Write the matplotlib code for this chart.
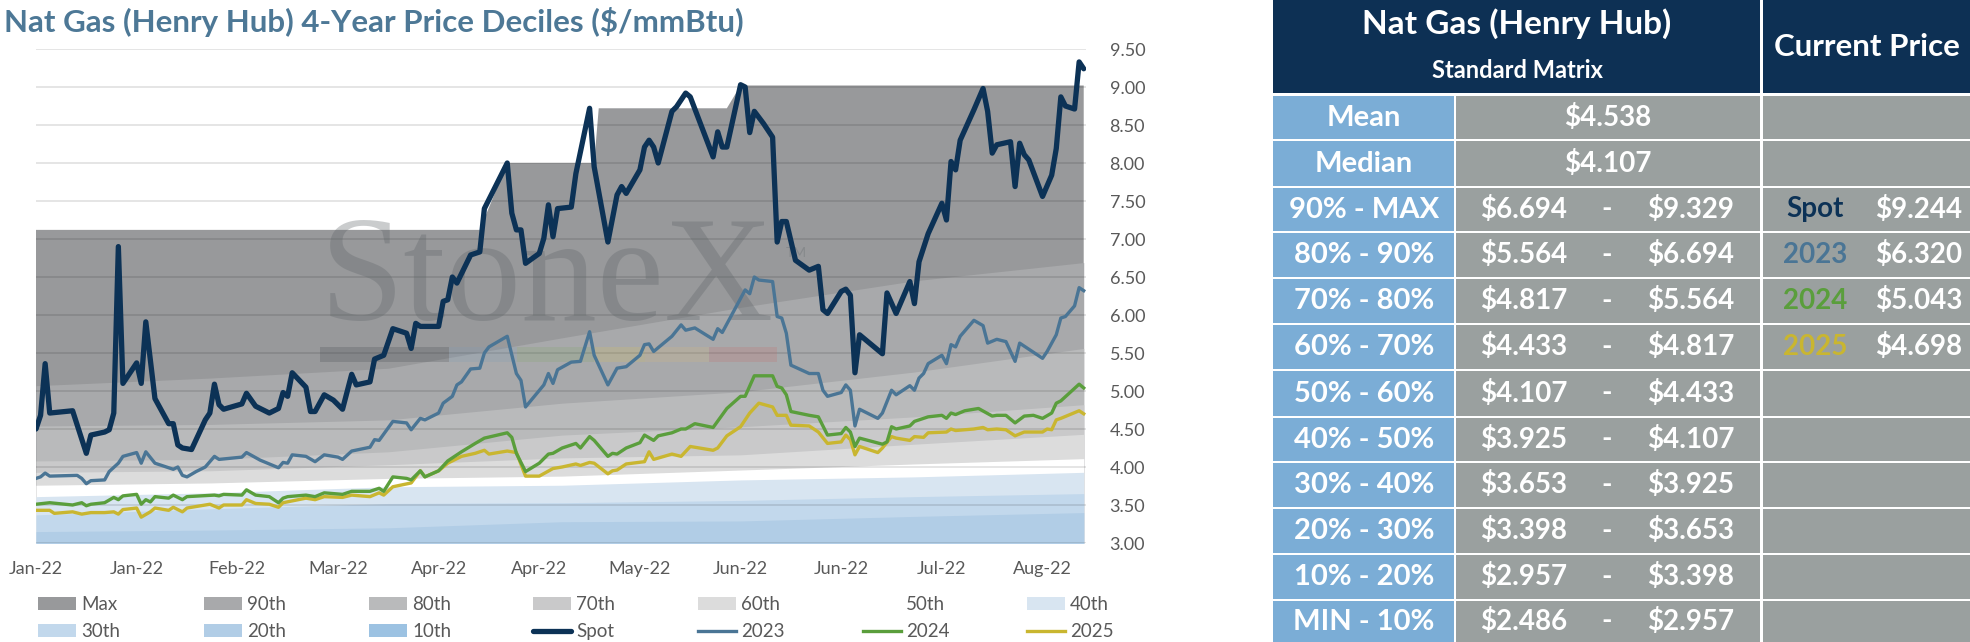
import numpy as np
import matplotlib
matplotlib.use("Agg")
import matplotlib.pyplot as plt
from matplotlib.patches import Rectangle, Patch
from matplotlib.lines import Line2D

plt.rcParams['font.family'] = ['Lato', 'DejaVu Sans']
plt.rcParams['ytick.major.pad'] = 17
plt.rcParams['xtick.major.pad'] = 13

W, H = 1970, 642

# ---- chart data (x = days since 3-Jan-2022) ----
spot_days = [0, 1, 2, 3, 8, 11, 12, 15, 16, 17, 18, 19, 22, 23, 24, 26, 29, 30, 31, 32,
             34, 37, 38, 39, 40, 41, 45, 46, 48, 51, 53, 54, 55, 56, 59, 60, 61, 63, 65, 67,
             69, 70, 73, 74, 76, 78, 81, 82, 83, 84, 88, 89, 90, 91, 92, 95, 97, 98, 103, 104,
             105, 106, 107, 110, 111, 112, 113, 114, 117, 118, 121, 122, 125, 127, 128, 129, 132, 133, 134, 135,
             136, 139, 140, 142, 143, 148, 149, 150, 151, 154, 155, 156, 157, 159, 161, 162, 163, 164, 166, 169,
             171, 172, 173, 176, 177, 178, 179, 180, 185, 186, 188, 191, 192, 193, 195, 198, 199, 200, 201, 202,
             205, 207, 208, 209, 210, 213, 214, 215, 216, 217, 220, 222, 223, 224, 225, 227, 228, 229]
spot_vals = [4.50, 4.68, 5.36, 4.71, 4.74, 4.18, 4.42, 4.46, 4.49, 4.71, 6.90, 5.10, 5.37, 5.10, 5.91, 4.90, 4.57, 4.57, 4.29, 4.25,
             4.23, 4.62, 4.71, 5.09, 4.82, 4.76, 4.83, 4.97, 4.80, 4.71, 4.77, 4.98, 4.93, 5.24, 5.05, 4.73, 4.73, 4.95, 4.88, 4.76,
             5.22, 5.08, 5.12, 5.42, 5.47, 5.82, 5.76, 5.56, 5.89, 5.85, 5.85, 6.18, 6.20, 6.50, 6.42, 6.79, 6.83, 7.40, 8.00, 7.34,
             7.12, 7.12, 6.68, 6.81, 7.01, 7.45, 7.03, 7.40, 7.42, 7.86, 8.72, 7.95, 6.96, 7.58, 7.69, 7.60, 7.91, 8.21, 8.30, 8.21,
             8.00, 8.68, 8.74, 8.92, 8.87, 8.08, 8.41, 8.21, 8.21, 9.03, 9.00, 8.40, 8.68, 8.52, 8.34, 6.96, 7.23, 7.23, 6.72, 6.59,
             6.64, 6.07, 6.02, 6.31, 6.34, 6.26, 5.24, 5.74, 5.49, 6.29, 6.02, 6.44, 6.15, 6.70, 7.07, 7.47, 7.25, 8.02, 7.91, 8.30,
             8.70, 8.98, 8.68, 8.13, 8.24, 8.28, 7.69, 8.26, 8.11, 8.04, 7.56, 7.84, 8.19, 8.87, 8.75, 8.71, 9.33, 9.24]

y2023_days = [0, 1, 2, 3, 9, 10, 11, 12, 15, 16, 18, 19, 22, 23, 24, 26, 30, 31, 32, 33,
              35, 37, 39, 40, 45, 46, 49, 51, 53, 54, 55, 56, 59, 61, 63, 66, 67, 69, 73, 74,
              75, 78, 81, 82, 84, 85, 88, 89, 91, 92, 93, 95, 97, 98, 99, 103, 105, 106, 107, 111,
              112, 113, 114, 117, 119, 121, 122, 125, 127, 129, 132, 133, 134, 135, 139, 141, 142, 144, 148, 149,
              150, 155, 156, 157, 158, 161, 162, 163, 164, 165, 169, 171, 172, 173, 176, 177, 178, 179, 180, 184,
              185, 187, 188, 191, 192, 193, 194, 195, 198, 199, 200, 201, 202, 205, 207, 208, 210, 212, 214, 215,
              217, 220, 221, 223, 224, 225, 227, 228, 229]
y2023_vals = [3.85, 3.87, 3.92, 3.88, 3.89, 3.85, 3.78, 3.82, 3.83, 3.94, 4.05, 4.14, 4.19, 4.05, 4.20, 4.05, 3.97, 4.00, 3.89, 3.87,
              3.94, 4.00, 4.14, 4.10, 4.13, 4.19, 4.09, 4.04, 3.99, 4.06, 4.05, 4.16, 4.14, 4.07, 4.16, 4.13, 4.10, 4.21, 4.26, 4.36,
              4.35, 4.60, 4.58, 4.49, 4.64, 4.62, 4.71, 4.84, 4.93, 5.08, 5.12, 5.29, 5.30, 5.50, 5.58, 5.72, 5.23, 5.14, 4.79, 5.08,
              5.23, 5.10, 5.28, 5.38, 5.39, 5.78, 5.47, 5.08, 5.30, 5.32, 5.47, 5.61, 5.62, 5.52, 5.72, 5.87, 5.80, 5.83, 5.68, 5.82,
              5.77, 6.33, 6.28, 6.50, 6.46, 6.44, 5.98, 5.96, 5.76, 5.34, 5.23, 5.23, 5.01, 4.93, 4.98, 5.08, 5.01, 4.54, 4.76, 4.64,
              4.71, 5.01, 4.95, 5.07, 5.01, 5.17, 5.23, 5.36, 5.47, 5.36, 5.61, 5.58, 5.72, 5.93, 5.86, 5.63, 5.68, 5.65, 5.39, 5.63,
              5.55, 5.43, 5.52, 5.74, 5.96, 5.98, 6.12, 6.36, 6.32]

y2024_days = [0, 3, 8, 10, 11, 12, 15, 17, 18, 19, 22, 23, 24, 25, 26, 29, 30, 32, 33, 39,
              40, 41, 45, 46, 48, 51, 53, 54, 55, 59, 61, 63, 67, 69, 73, 75, 76, 78, 81, 82,
              84, 85, 88, 90, 93, 96, 98, 103, 104, 105, 107, 110, 112, 113, 115, 118, 119, 121, 122, 125,
              126, 127, 129, 132, 133, 135, 136, 139, 141, 142, 144, 148, 151, 154, 155, 157, 161, 162, 163, 164,
              165, 169, 171, 173, 176, 177, 178, 179, 180, 185, 186, 187, 188, 191, 192, 195, 198, 199, 200, 201,
              203, 206, 209, 210, 212, 214, 216, 218, 220, 222, 223, 224, 228, 229]
y2024_vals = [3.51, 3.53, 3.50, 3.53, 3.49, 3.51, 3.53, 3.60, 3.57, 3.62, 3.64, 3.51, 3.57, 3.54, 3.61, 3.59, 3.63, 3.57, 3.61, 3.63,
              3.62, 3.64, 3.63, 3.70, 3.63, 3.61, 3.53, 3.59, 3.61, 3.63, 3.61, 3.66, 3.64, 3.68, 3.68, 3.72, 3.68, 3.87, 3.85, 3.83,
              3.95, 3.87, 3.95, 4.08, 4.20, 4.31, 4.38, 4.45, 4.39, 4.18, 3.94, 4.05, 4.17, 4.18, 4.25, 4.31, 4.25, 4.40, 4.35, 4.14,
              4.18, 4.17, 4.25, 4.32, 4.42, 4.35, 4.41, 4.45, 4.50, 4.50, 4.57, 4.52, 4.77, 4.93, 4.93, 5.20, 5.20, 5.06, 5.04, 4.95,
              4.73, 4.68, 4.66, 4.42, 4.44, 4.52, 4.46, 4.27, 4.38, 4.30, 4.33, 4.53, 4.50, 4.54, 4.60, 4.66, 4.68, 4.64, 4.71, 4.69,
              4.74, 4.77, 4.67, 4.68, 4.68, 4.58, 4.67, 4.68, 4.64, 4.71, 4.84, 4.87, 5.09, 5.04]

y2025_days = [0, 2, 3, 4, 8, 10, 12, 15, 17, 18, 19, 22, 23, 25, 26, 29, 30, 32, 33, 38,
              40, 41, 45, 46, 48, 51, 53, 54, 59, 61, 63, 67, 69, 73, 75, 76, 78, 82, 84, 85,
              88, 90, 93, 96, 98, 99, 103, 105, 107, 110, 113, 115, 118, 119, 121, 122, 125, 126, 127, 129,
              133, 134, 135, 139, 141, 143, 148, 149, 151, 154, 156, 158, 161, 162, 164, 165, 169, 171, 173, 176,
              177, 178, 179, 180, 184, 185, 187, 188, 191, 192, 194, 195, 199, 200, 201, 205, 207, 208, 210, 212,
              214, 216, 220, 221, 222, 223, 224, 228, 229]
y2025_vals = [3.43, 3.43, 3.43, 3.39, 3.41, 3.38, 3.40, 3.40, 3.41, 3.38, 3.44, 3.46, 3.34, 3.41, 3.46, 3.43, 3.47, 3.41, 3.46, 3.51,
              3.46, 3.50, 3.50, 3.57, 3.52, 3.51, 3.47, 3.53, 3.59, 3.57, 3.61, 3.60, 3.63, 3.61, 3.66, 3.63, 3.74, 3.79, 3.95, 3.87,
              3.95, 4.05, 4.14, 4.18, 4.22, 4.17, 4.21, 4.19, 3.88, 3.88, 3.98, 4.00, 4.04, 4.02, 4.06, 4.05, 3.91, 3.95, 3.96, 4.04,
              4.07, 4.20, 4.10, 4.17, 4.14, 4.27, 4.22, 4.25, 4.41, 4.53, 4.71, 4.84, 4.79, 4.68, 4.68, 4.55, 4.54, 4.46, 4.31, 4.33,
              4.42, 4.36, 4.16, 4.27, 4.19, 4.25, 4.40, 4.38, 4.35, 4.40, 4.39, 4.45, 4.46, 4.50, 4.48, 4.50, 4.52, 4.49, 4.50, 4.49,
              4.41, 4.46, 4.46, 4.50, 4.49, 4.62, 4.64, 4.74, 4.70]

# decile bands
max_days = [0, 97, 103, 122, 123, 151, 154, 229]
max_vals = [7.12, 7.12, 8.00, 8.00, 8.72, 8.72, 9.02, 9.02]
band_days = [0, 38, 77, 115, 154, 192, 229]
p90 = [5.07, 5.17, 5.30, 5.70, 6.10, 6.45, 6.69]
p80 = [4.54, 4.56, 4.62, 4.84, 4.99, 5.25, 5.56]
p70 = [4.08, 4.10, 4.20, 4.42, 4.53, 4.66, 4.82]
p60 = [3.93, 3.95, 4.03, 4.12, 4.16, 4.30, 4.43]
p50 = [3.76, 3.79, 3.85, 3.88, 3.96, 4.04, 4.11]
p40 = [3.61, 3.66, 3.74, 3.76, 3.83, 3.87, 3.93]
p30 = [3.37, 3.45, 3.52, 3.53, 3.56, 3.61, 3.65]
p20 = [3.15, 3.17, 3.20, 3.28, 3.29, 3.35, 3.40]
p10 = [2.70, 2.75, 2.80, 2.85, 2.88, 2.92, 2.96]

tick_labels = ["Jan-22", "Jan-22", "Feb-22", "Mar-22", "Apr-22", "Apr-22",
               "May-22", "Jun-22", "Jun-22", "Jul-22", "Aug-22"]
tick_step = 22

# ---- table data ----
row_labels = ["Mean", "Median", "90% - MAX", "80% - 90%", "70% - 80%", "60% - 70%",
              "50% - 60%", "40% - 50%", "30% - 40%", "20% - 30%", "10% - 20%", "MIN - 10%"]
range_low = [4.538, 4.107, 6.694, 5.564, 4.817, 4.433, 4.107, 3.925, 3.653, 3.398, 2.957, 2.486]
range_high = [None, None, 9.329, 6.694, 5.564, 4.817, 4.433, 4.107, 3.925, 3.653, 3.398, 2.957]
current_names = ["Spot", "2023", "2024", "2025"]
current_vals = [9.244, 6.320, 5.043, 4.698]

# ---- styles ----
c_spot, c_23, c_24, c_25 = '#0c3256', '#4a7595', '#5a9e3c', '#c9b630'
band_colors = {'Max': '#98999b', '90th': '#a8a9ab', '80th': '#b9babb', '70th': '#c9c9ca',
               '60th': '#dcdcdc', '50th': '#ffffff', '40th': '#d8e5f1', '30th': '#c2d8ec',
               '20th': '#b1cde6', '10th': '#9cc2e2'}
txt_gray = '#595959'

fig = plt.figure(figsize=(W / 100, H / 100), dpi=100)

fig.text(4 / W, 1 - 22 / H, "Nat Gas (Henry Hub) 4-Year Price Deciles ($/mmBtu)",
         fontsize=22.5, weight='bold', color='#4d7896', va='center', ha='left')

ax = fig.add_axes([36 / W, 1 - 543 / H, (1086 - 36) / W, (543 - 49) / H])

bands = [('Max', max_days, max_vals), ('90th', band_days, p90), ('80th', band_days, p80),
         ('70th', band_days, p70), ('60th', band_days, p60), ('50th', band_days, p50),
         ('40th', band_days, p40), ('30th', band_days, p30), ('20th', band_days, p20),
         ('10th', band_days, p10)]
for name, d, v in bands:
    ax.fill_between(d, v, 0, color=band_colors[name], lw=0, zorder=1)

# watermark
ax.text(0.270, 0.451, "StoneX", transform=ax.transAxes, fontsize=109,
        family='Liberation Serif', color='#5f6569', alpha=0.33, ha='left', va='baseline', zorder=3)
ax.text(0.714, 0.600, "TM", transform=ax.transAxes, fontsize=10,
        color='#5f6569', alpha=0.3, ha='left', va='top', zorder=3)
bar_edges = [320, 449, 517, 594, 645, 709, 777]
bar_cols = ['#3c4247', '#7d9cb8', '#7fa86a', '#d9c35a', '#d9b77a', '#c56b6b']
for i, col in enumerate(bar_cols):
    x0 = (bar_edges[i] - 36) / 1050
    x1 = (bar_edges[i + 1] - 36) / 1050
    ax.add_patch(Rectangle((x0, 0.366), x1 - x0, 0.031, transform=ax.transAxes,
                           color=col, alpha=0.22, lw=0, zorder=3))

ax.plot(y2025_days, y2025_vals, color=c_25, lw=2.4, zorder=4, solid_joinstyle='round')
ax.plot(y2024_days, y2024_vals, color=c_24, lw=2.4, zorder=5, solid_joinstyle='round')
ax.plot(y2023_days, y2023_vals, color=c_23, lw=2.4, zorder=6, solid_joinstyle='round')
ax.plot(spot_days, spot_vals, color=c_spot, lw=3.8, zorder=7, solid_joinstyle='round',
        solid_capstyle='round')

ax.set_xlim(0, 229.5)
ax.set_ylim(3.0, 9.5)
ax.set_yticks(np.arange(3.0, 9.51, 0.5))
ax.yaxis.set_major_formatter(plt.FuncFormatter(lambda v, p: f"{v:.2f}"))
ax.yaxis.tick_right()
ax.set_xticks(np.arange(len(tick_labels)) * tick_step)
ax.set_xticklabels(tick_labels)
ax.tick_params(axis='both', length=0, labelsize=13, labelcolor=txt_gray)
for s in ax.spines.values():
    s.set_visible(False)
ax.set_axisbelow(False)
ax.yaxis.grid(True, color='black', alpha=0.12, lw=1.2)

# legend, one column at a time
handles = [Patch(facecolor=band_colors[n], edgecolor='none', label=n) for n, _, _ in bands]
handles += [Line2D([], [], color=c_spot, lw=3.8, solid_capstyle='round', label='Spot'),
            Line2D([], [], color=c_23, lw=2.4, label='2023'),
            Line2D([], [], color=c_24, lw=2.4, label='2024'),
            Line2D([], [], color=c_25, lw=2.4, label='2025')]
col_x = [38, 204, 369, 533, 698, 863, 1027]
for c, x in enumerate(col_x):
    fig.legend(handles=[handles[c], handles[c + 7]], loc='upper left',
               bbox_to_anchor=(x / W, 1 - 596 / H), frameon=False, fontsize=13.5,
               handlelength=2.0, handleheight=0.65, handletextpad=0.3,
               labelspacing=0.55, borderpad=0, borderaxespad=0, labelcolor=txt_gray)

# ---- table ----
tax = fig.add_axes([1273 / W, 0, (W - 1273) / W, 1])
tax.set_xlim(1273, W)
tax.set_ylim(H, 0)
tax.axis('off')

navy = '#0d3054'
blue_cell = '#7badd6'
gray_cell = '#9aa09f'
tax.add_patch(Rectangle((1273, 0), 1760 - 1273, 93, color=navy, lw=0))
tax.add_patch(Rectangle((1763, 0), W - 1763, 93, color=navy, lw=0))
tax.text(1517, 24, "Nat Gas (Henry Hub)", color='white', fontsize=24, weight='bold',
         ha='center', va='center')
tax.text(1517, 70, "Standard Matrix", color='white', fontsize=17, weight='bold',
         ha='center', va='center')
tax.text(1867, 47, "Current Price", color='white', fontsize=22.5, weight='bold',
         ha='center', va='center')

row_edges = [96, 141, 188, 233, 279, 325, 371, 418, 463, 509, 555, 601, 644]
name_cols = [c_spot, c_23, c_24, c_25]
fs = 20
for i, lab in enumerate(row_labels):
    top, bot = row_edges[i], row_edges[i + 1] - 2
    yc = (top + bot) / 2
    tax.add_patch(Rectangle((1273, top), 1454 - 1273, bot - top, color=blue_cell, lw=0))
    tax.add_patch(Rectangle((1456, top), 1760 - 1456, bot - top, color=gray_cell, lw=0))
    tax.add_patch(Rectangle((1763, top), W - 1763, bot - top, color=gray_cell, lw=0))
    tax.text(1364, yc, lab, color='white', fontsize=21, weight='bold', ha='center', va='center')
    if range_high[i] is None:
        tax.text(1608, yc, f"${range_low[i]:.3f}", color='white', fontsize=fs,
                 weight='bold', ha='center', va='center')
    else:
        tax.text(1524, yc, f"${range_low[i]:.3f}", color='white', fontsize=fs,
                 weight='bold', ha='center', va='center')
        tax.text(1607, yc, "-", color='white', fontsize=fs, weight='bold',
                 ha='center', va='center')
        tax.text(1691, yc, f"${range_high[i]:.3f}", color='white', fontsize=fs,
                 weight='bold', ha='center', va='center')
    k = i - 2
    if 0 <= k < len(current_names):
        tax.text(1815, yc, current_names[k], color=name_cols[k], fontsize=fs,
                 weight='bold', ha='center', va='center')
        tax.text(1919, yc, f"${current_vals[k]:.3f}", color='white', fontsize=fs,
                 weight='bold', ha='center', va='center')

fig.savefig("out.png", dpi=100)
